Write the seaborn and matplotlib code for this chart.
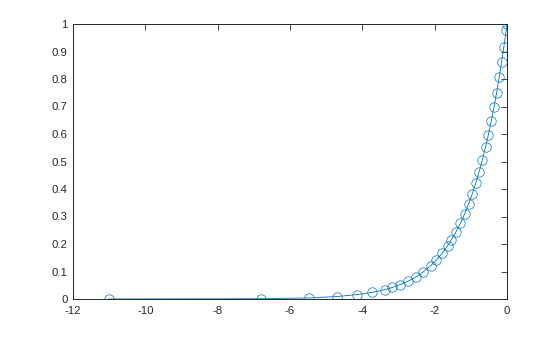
import matplotlib
matplotlib.use("Agg")
import matplotlib.pyplot as plt
import seaborn as sns
import pandas as pd

# Values
x_vals = [0.0, -0.022, -0.089, -0.147, -0.216, -0.29, -0.358, -0.436, -0.517,
          -0.594, -0.683, -0.772, -0.86, -0.962, -1.064, -1.174, -1.29, -1.415,
          -1.537, -1.645, -1.796, -1.952, -2.112, -2.33, -2.52, -2.73, -2.96,
          -3.17, -3.38, -3.72, -4.15, -4.7, -5.47, -6.8, -11.0]
y_vals = [1.0, 0.978, 0.915, 0.863, 0.806, 0.748, 0.699, 0.647, 0.596,
          0.552, 0.505, 0.462, 0.423, 0.382, 0.345, 0.309, 0.275, 0.243,
          0.215, 0.193, 0.166, 0.142, 0.121, 0.097, 0.080, 0.065, 0.052,
          0.042, 0.034, 0.024, 0.016, 0.009, 0.004, 0.001, 0.00002]
x_ticks = [-12, -10, -8, -6, -4, -2, 0]
y_ticks = [0, 0.1, 0.2, 0.3, 0.4, 0.5, 0.6, 0.7, 0.8, 0.9, 1]
y_tick_labels = ["0", "0.1", "0.2", "0.3", "0.4", "0.5", "0.6", "0.7", "0.8", "0.9", "1"]

sns.set_style("white")
plt.rcParams["font.family"] = ["Liberation Sans", "DejaVu Sans"]
plt.rcParams["axes.unicode_minus"] = False

df = pd.DataFrame({"x": x_vals, "y": y_vals})
blue = "#0072BD"
axcol = "#262626"

fig = plt.figure(figsize=(5.6, 3.37), dpi=100)
ax = fig.add_axes([73 / 560, 1 - 299 / 337, (507 - 73) / 560, (299 - 24) / 337])
sns.lineplot(data=df, x="x", y="y", ax=ax, color=blue, lw=0.6,
             marker="o", markersize=6.8, markerfacecolor="none",
             markeredgecolor=blue, markeredgewidth=0.5)

ax.set_xlim(-12, 0)
ax.set_ylim(0, 1)
ax.set_xticks(x_ticks)
ax.set_xticklabels([str(t) for t in x_ticks])
ax.set_yticks(y_ticks)
ax.set_yticklabels(y_tick_labels)
ax.set_xlabel("")
ax.set_ylabel("")
for s in ax.spines.values():
    s.set_visible(True)
    s.set_color(axcol)
    s.set_linewidth(0.7)
ax.tick_params(direction="in", length=4, width=0.6, colors=axcol, labelsize=8.2,
               top=True, right=True, labelcolor=axcol)
ax.tick_params(axis="x", pad=5)
ax.tick_params(axis="y", pad=4)

fig.savefig("out.png", dpi=100)
